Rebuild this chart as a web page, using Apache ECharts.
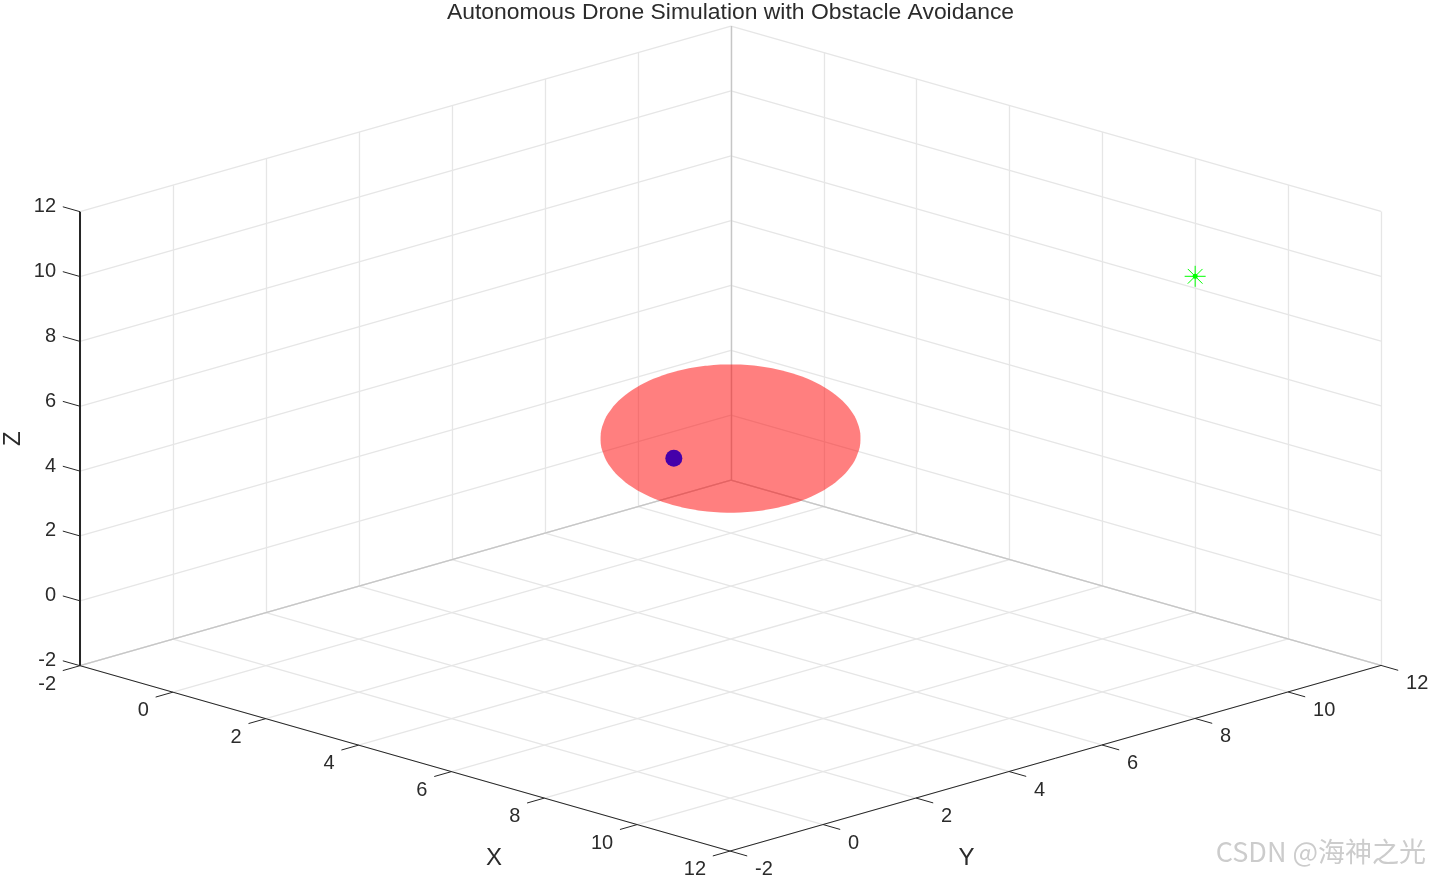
<!DOCTYPE html>
<html>
<head>
<meta charset="utf-8">
<title>Autonomous Drone Simulation with Obstacle Avoidance</title>
<script src="https://cdn.jsdelivr.net/npm/echarts@6/dist/echarts.min.js"></script>
<style>
html, body { margin: 0; padding: 0; background: #fff; }
#main { width: 1430px; height: 878px; }
</style>
</head>
<body>
<div id="main"></div>
<script type="text/javascript">
// chart values
var xTicks = [-2, 0, 2, 4, 6, 8, 10, 12];
var yTicks = [-2, 0, 2, 4, 6, 8, 10, 12];
var zTicks = [-2, 0, 2, 4, 6, 8, 10, 12];
var obstacleCenter = [5, 5, 5];
var obstacleRadius = 1.98;
var obstacleFacets = 60;
var dronePos = [4.39, 4.39, 4.39];
var goalPos = [10, 10, 10];

var FONT = '"Liberation Sans", Arial, sans-serif';
var TEXT_COLOR = '#2b2b2b';
var xMin = xTicks[0], xMax = xTicks[xTicks.length - 1];
var yMin = yTicks[0], yMax = yTicks[yTicks.length - 1];
var zMin = zTicks[0], zMax = zTicks[zTicks.length - 1];

// fixed 3d view: data units to the flat axes below
function project(x, y, z) {
    return [
        80 + (x - xMin) * 46.43 + (y - yMin) * 46.5,
        665.7 + (x - xMin) * 13.24 - (y - yMin) * 13.26 - (z - zMin) * 32.43
    ];
}

function seg(a, b) {
    return { coords: [project(a[0], a[1], a[2]), project(b[0], b[1], b[2])] };
}

var gridSegs = [];
var backSegs = [
    seg([xMin, yMax, zMin], [xMin, yMax, zMax]),
    seg([xMin, yMax, zMin], [xMin, yMin, zMin]),
    seg([xMin, yMax, zMin], [xMax, yMax, zMin])
];
xTicks.forEach(function (x) {
    gridSegs.push(seg([x, yMin, zMin], [x, yMax, zMin]));
    gridSegs.push(seg([x, yMax, zMin], [x, yMax, zMax]));
});
yTicks.forEach(function (y) {
    gridSegs.push(seg([xMin, y, zMin], [xMax, y, zMin]));
    gridSegs.push(seg([xMin, y, zMin], [xMin, y, zMax]));
});
zTicks.forEach(function (z) {
    gridSegs.push(seg([xMin, yMin, z], [xMin, yMax, z]));
    gridSegs.push(seg([xMin, yMax, z], [xMax, yMax, z]));
});

var tickLen = 0.37;
var axisSegs = [
    seg([xMin, yMin, zMin], [xMax, yMin, zMin]),
    seg([xMax, yMin, zMin], [xMax, yMax, zMin])
];
xTicks.forEach(function (x) { axisSegs.push(seg([x, yMin, zMin], [x, yMin - tickLen, zMin])); });
yTicks.forEach(function (y) { axisSegs.push(seg([xMax, y, zMin], [xMax + tickLen, y, zMin])); });
zTicks.forEach(function (z) { axisSegs.push(seg([xMin, yMin, z], [xMin - tickLen, yMin, z])); });

// outline of the sphere: convex hull of its projected vertices
function sphereOutline() {
    var pts = [];
    for (var i = 0; i <= obstacleFacets; i++) {
        var phi = -Math.PI / 2 + Math.PI * i / obstacleFacets;
        for (var j = 0; j < obstacleFacets; j++) {
            var th = -Math.PI + 2 * Math.PI * j / obstacleFacets;
            pts.push(project(
                obstacleCenter[0] + obstacleRadius * Math.cos(phi) * Math.cos(th),
                obstacleCenter[1] + obstacleRadius * Math.cos(phi) * Math.sin(th),
                obstacleCenter[2] + obstacleRadius * Math.sin(phi)
            ));
        }
    }
    pts.sort(function (a, b) { return a[0] - b[0] || a[1] - b[1]; });
    function cross(o, a, b) {
        return (a[0] - o[0]) * (b[1] - o[1]) - (a[1] - o[1]) * (b[0] - o[0]);
    }
    function half(list) {
        var h = [];
        list.forEach(function (p) {
            while (h.length > 1 && cross(h[h.length - 2], h[h.length - 1], p) <= 0) h.pop();
            h.push(p);
        });
        h.pop();
        return h;
    }
    return half(pts).concat(half(pts.slice().reverse()));
}

// tick and axis labels: [anchor, text, dx, dy, align, size, rotation]
var labels = [];
xTicks.forEach(function (x) {
    labels.push([project(x, yMin, zMin), String(x), -24, 18.5, 'right', 20, 0]);
});
yTicks.forEach(function (y) {
    labels.push([project(xMax, y, zMin), String(y), 25, 18.5, 'left', 20, 0]);
});
zTicks.forEach(function (z) {
    labels.push([project(xMin, yMin, z), String(z), -24, -5, 'right', 20, 0]);
});
labels.push([project((xMin + xMax) / 2, yMin, zMin), 'X', 89, 100, 'center', 24, 0]);
labels.push([project(xMax, (yMin + yMax) / 2, zMin), 'Y', -89, 100, 'center', 24, 0]);
labels.push([project(xMin, yMin, (zMin + zMax) / 2), 'Z', -67, 0, 'center', 24, Math.PI / 2]);

var myChart = echarts.init(document.getElementById('main'));

var option = {
    animation: false,
    backgroundColor: '#ffffff',
    title: {
        text: 'Autonomous Drone Simulation with Obstacle Avoidance',
        left: 442,
        top: -4,
        textStyle: { fontFamily: FONT, fontSize: 22.9, fontWeight: 'normal', color: TEXT_COLOR }
    },
    grid: { left: 0, right: 0, top: 0, bottom: 0 },
    xAxis: { type: 'value', min: 0, max: 1430, show: false },
    yAxis: { type: 'value', min: 0, max: 878, inverse: true, show: false },
    graphic: [{
        type: 'text',
        right: 4,
        bottom: 13,
        z: 100,
        style: {
            text: 'CSDN @海神之光',
            font: '27px "Noto Sans CJK SC", sans-serif',
            fill: '#cccccc',
            shadowColor: 'rgba(0,0,0,0.2)',
            shadowBlur: 1,
            shadowOffsetX: 1,
            shadowOffsetY: 1
        }
    }],
    series: [
        {
            name: 'grid',
            type: 'lines',
            coordinateSystem: 'cartesian2d',
            silent: true,
            z: 1,
            lineStyle: { color: '#e6e6e6', width: 1.3, opacity: 1 },
            data: gridSegs
        },
        {
            name: 'back edges',
            type: 'lines',
            coordinateSystem: 'cartesian2d',
            silent: true,
            z: 2,
            lineStyle: { color: '#c6c6c6', width: 1.3, opacity: 1 },
            data: backSegs
        },
        {
            name: 'obstacle',
            type: 'custom',
            coordinateSystem: 'cartesian2d',
            silent: true,
            z: 3,
            data: [obstacleCenter],
            renderItem: function (params, api) {
                return {
                    type: 'polygon',
                    shape: { points: sphereOutline().map(function (p) { return api.coord(p); }) },
                    style: { fill: 'rgba(255,0,0,0.5)' }
                };
            }
        },
        {
            name: 'axes',
            type: 'lines',
            coordinateSystem: 'cartesian2d',
            silent: true,
            z: 4,
            lineStyle: { color: '#262626', width: 1, opacity: 1 },
            data: axisSegs
        },
        {
            name: 'z axis',
            type: 'lines',
            coordinateSystem: 'cartesian2d',
            silent: true,
            z: 4,
            lineStyle: { color: '#262626', width: 2, opacity: 1 },
            data: [seg([xMin, yMin, zMin], [xMin, yMin, zMax])]
        },
        {
            name: 'drone',
            type: 'scatter',
            silent: true,
            z: 5,
            symbol: 'circle',
            symbolSize: 17,
            itemStyle: { color: '#4500aa', opacity: 1 },
            data: [project(dronePos[0], dronePos[1], dronePos[2])]
        },
        {
            name: 'goal',
            type: 'scatter',
            silent: true,
            z: 5,
            symbol: 'path://M-10 0L10 0M0 -10L0 10M-7 -7L7 7M-7 7L7 -7',
            symbolSize: 21,
            itemStyle: { color: 'none', borderColor: '#00ff00', borderWidth: 1, opacity: 1 },
            data: [project(goalPos[0], goalPos[1], goalPos[2])]
        },
        {
            name: 'goal dot',
            type: 'scatter',
            silent: true,
            z: 5,
            symbol: 'circle',
            symbolSize: 5,
            itemStyle: { color: '#00ff00', opacity: 1 },
            data: [project(goalPos[0], goalPos[1], goalPos[2])]
        },
        {
            name: 'labels',
            type: 'custom',
            coordinateSystem: 'cartesian2d',
            silent: true,
            z: 6,
            data: labels.map(function (l, i) { return [l[0][0], l[0][1], i]; }),
            renderItem: function (params, api) {
                var l = labels[params.dataIndex];
                var c = api.coord([l[0][0], l[0][1]]);
                return {
                    type: 'text',
                    x: c[0] + l[2],
                    y: c[1] + l[3],
                    rotation: l[6],
                    style: {
                        text: l[1],
                        align: l[4],
                        verticalAlign: 'middle',
                        font: l[5] + 'px ' + FONT,
                        fill: TEXT_COLOR
                    }
                };
            }
        }
    ]
};
myChart.setOption(option);
</script>
</body>
</html>
